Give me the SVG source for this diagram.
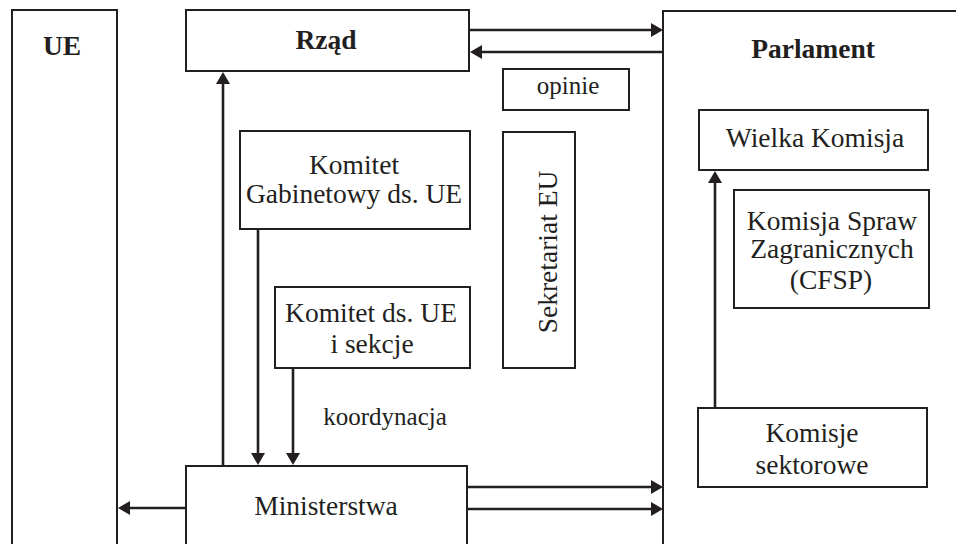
<svg xmlns="http://www.w3.org/2000/svg" width="956" height="544" viewBox="0 0 956 544">
<style>
.box{fill:#fff;stroke:#231f20;stroke-width:2}
.t{font-family:"Liberation Serif","Times New Roman",serif;font-size:27.5px;fill:#231f20;text-anchor:middle}
.b{font-weight:bold}
.s{font-size:25px}
.c{fill:none;stroke:#231f20;stroke-width:2.6;marker-end:url(#ah)}
</style>
<defs>
<marker id="ah" viewBox="0 0 12 14" refX="8" refY="7" markerWidth="12" markerHeight="14" markerUnits="userSpaceOnUse" orient="auto">
<path d="M0,0 L12,7 L0,14 z" fill="#231f20"/>
</marker>
</defs>
<rect width="956" height="544" fill="#fff"/>
<g id="ue"><rect class="box" x="12" y="10" width="105" height="560"/><text class="t b" x="62" y="55">UE</text></g>
<g id="parlament"><rect class="box" x="663" y="11" width="320" height="560"/><text class="t b" x="813" y="58">Parlament</text></g>
<g id="rzad"><rect class="box" x="186" y="10" width="283" height="61"/><text class="t b" x="326" y="49">Rząd</text></g>
<g id="komitet-gabinetowy"><rect class="box" x="240" y="131" width="230" height="98"/><text class="t" x="354" y="174">Komitet</text><text class="t" x="354" y="203">Gabinetowy ds. UE</text></g>
<g id="komitet-ue"><rect class="box" x="275" y="287" width="195" height="81"/><text class="t" x="371" y="322">Komitet ds. UE</text><text class="t" x="372" y="353">i sekcje</text></g>
<g id="ministerstwa"><rect class="box" x="186" y="466" width="281" height="100"/><text class="t" x="326" y="515">Ministerstwa</text></g>
<g id="opinie"><rect class="box" x="503" y="69" width="126" height="41"/><text class="t s" x="568" y="94">opinie</text></g>
<g id="sekretariat"><rect class="box" x="503" y="132" width="72" height="236"/><text class="t" x="557" y="252" transform="rotate(-90 557 252)">Sekretariat EU</text></g>
<g id="wielka-komisja"><rect class="box" x="699" y="110" width="229" height="60"/><text class="t" x="815" y="147">Wielka Komisja</text></g>
<g id="komisja-spraw"><rect class="box" x="734" y="190" width="195" height="118"/><text class="t" x="832" y="230">Komisja Spraw</text><text class="t" x="832" y="258">Zagranicznych</text><text class="t" x="831" y="289">(CFSP)</text></g>
<g id="komisje-sektorowe"><rect class="box" x="698" y="408" width="229" height="79"/><text class="t" x="812" y="442">Komisje</text><text class="t" x="812" y="474">sektorowe</text></g>
<g id="connectors">
<line class="c" x1="223" y1="466" x2="223" y2="76"/>
<line class="c" x1="258" y1="229" x2="258" y2="461"/>
<line class="c" x1="293" y1="368" x2="293" y2="461"/>
<line class="c" x1="469" y1="30" x2="659" y2="30"/>
<line class="c" x1="663" y1="52" x2="474" y2="52"/>
<line class="c" x1="186" y1="508" x2="122" y2="508"/>
<line class="c" x1="467" y1="487" x2="659" y2="487"/>
<line class="c" x1="467" y1="509" x2="659" y2="509"/>
<line class="c" x1="715" y1="408" x2="715" y2="175"/>
<text class="t s" x="385" y="425">koordynacja</text>
</g>
</svg>
